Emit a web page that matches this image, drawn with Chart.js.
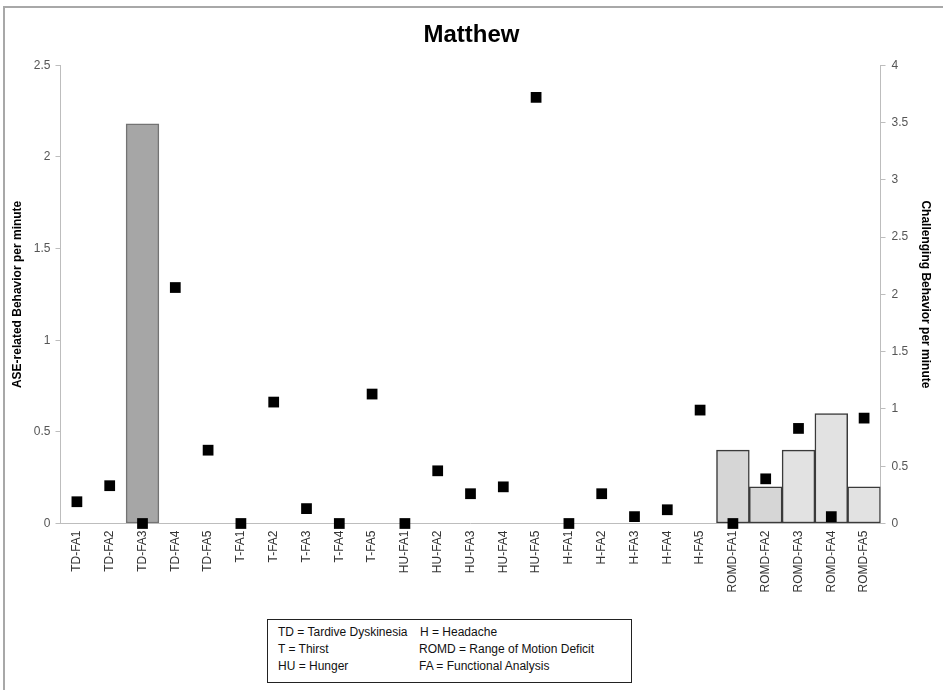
<!DOCTYPE html>
<html><head><meta charset="utf-8">
<script src="https://cdn.jsdelivr.net/npm/chart.js@4.4.1/dist/chart.umd.min.js"></script>
<style>
html,body{margin:0;padding:0;background:#fff;}
#wrap{position:relative;width:943px;height:690px;overflow:hidden;background:#fff;}
#frame{position:absolute;left:3px;top:6px;width:1000px;height:1000px;border:2px solid #a8a8a8;box-sizing:border-box;}
#c{position:absolute;left:0;top:0;}
#key{position:absolute;left:267px;top:619px;width:365px;height:64px;border:1.5px solid #222;box-sizing:border-box;font:12px "Liberation Sans",Arial,sans-serif;color:#111;background:#fff;}
#key span{position:absolute;white-space:nowrap;}
</style></head>
<body>
<div id="wrap">
<div id="frame"></div>
<canvas id="c" width="943" height="690"></canvas>
<div id="key">
<span style="left:10px;top:5px">TD = Tardive Dyskinesia</span>
<span style="left:152px;top:5px">H = Headache</span>
<span style="left:10px;top:22px">T = Thirst</span>
<span style="left:151px;top:22px">ROMD = Range of Motion Deficit</span>
<span style="left:10px;top:39px">HU = Hunger</span>
<span style="left:151px;top:39px">FA = Functional Analysis</span>
</div>
</div>
<script>
const categories = ['TD-FA1','TD-FA2','TD-FA3','TD-FA4','TD-FA5','T-FA1','T-FA2','T-FA3','T-FA4','T-FA5','HU-FA1','HU-FA2','HU-FA3','HU-FA4','HU-FA5','H-FA1','H-FA2','H-FA3','H-FA4','H-FA5','ROMD-FA1','ROMD-FA2','ROMD-FA3','ROMD-FA4','ROMD-FA5'];
const aseValues = [null,null,2.18,null,null,null,null,null,null,null,null,null,null,null,null,null,null,null,null,null,0.4,0.2,0.4,0.6,0.2];
const challengingValues = [0.19,0.33,0,2.06,0.64,0,1.06,0.13,0,1.13,0,0.46,0.26,0.32,3.72,0,0.26,0.06,0.12,0.99,0,0.39,0.83,0.06,0.92];
const leftTicks = [0,0.5,1,1.5,2,2.5];
const rightTicks = [0,0.5,1,1.5,2,2.5,3,3.5,4];

const barFill = categories.map((c,i)=> i===2 ? '#a6a6a6' : (i===20||i===21 ? '#d6d6d6' : '#e2e2e2'));
const barEdge = categories.map((c,i)=> i===2 ? '#737373' : '#3a3a3a');
const tickFont = {family:'"Liberation Sans", Arial, sans-serif', size:12};
const axisGray = '#bdbdbd';
const plainNum = (v)=> String(Number(v));

new Chart(document.getElementById('c'), {
  data: {
    labels: categories,
    datasets: [
      {type:'line', label:'Challenging Behavior per minute', data: challengingValues, yAxisID:'y1',
       showLine:false, pointStyle:'rect', pointRadius:7.6, pointHoverRadius:7.6,
       backgroundColor:'#000', borderColor:'#000', borderWidth:0, clip:false, order:0},
      {type:'bar', label:'ASE-related Behavior per minute', data: aseValues, yAxisID:'y',
       backgroundColor: barFill, borderColor: barEdge, borderWidth:1.5, borderSkipped:false,
       barPercentage:1, categoryPercentage:1, order:1}
    ]
  },
  options: {
    responsive:false, animation:false, devicePixelRatio:1,
    layout:{padding:0},
    plugins:{
      legend:{display:false}, tooltip:{enabled:false},
      title:{display:true, text:'Matthew', color:'#000',
        font:{family:'"Liberation Sans", Arial, sans-serif', size:24, weight:'bold'},
        padding:{top:20.5, bottom:16}}
    },
    scales:{
      x:{type:'category', offset:true,
        grid:{drawOnChartArea:false, drawTicks:false},
        border:{display:true, color:axisGray, width:1},
        ticks:{autoSkip:false, minRotation:90, maxRotation:90, padding:7, color:'#333', font:tickFont},
        afterFit:(s)=>{ s.height = 166.5; }
      },
      y:{type:'linear', position:'left', min:0, max:2.5,
        afterBuildTicks:(s)=>{ s.ticks = leftTicks.map(v=>({value:v})); },
        grid:{drawOnChartArea:false, drawTicks:true, tickLength:5, color:axisGray},
        border:{display:true, color:axisGray, width:1},
        ticks:{padding:5, color:'#555', font:tickFont, callback:plainNum},
        title:{display:true, text:'ASE-related Behavior per minute', color:'#000',
          font:{family:'"Liberation Sans", Arial, sans-serif', size:12, weight:'bold'}, padding:{top:10,bottom:0}},
        afterFit:(s)=>{ s.width = 60.5; }
      },
      y1:{type:'linear', position:'right', min:0, max:4,
        afterBuildTicks:(s)=>{ s.ticks = rightTicks.map(v=>({value:v})); },
        grid:{drawOnChartArea:false, drawTicks:true, tickLength:5, color:axisGray},
        border:{display:true, color:axisGray, width:1},
        ticks:{padding:6, color:'#555', font:tickFont, callback:plainNum},
        title:{display:true, text:'Challenging Behavior per minute', color:'#000',
          font:{family:'"Liberation Sans", Arial, sans-serif', size:12, weight:'bold'}, padding:{top:10,bottom:0}},
        afterFit:(s)=>{ s.width = 62.5; }
      }
    }
  }
});
</script>
</body></html>
